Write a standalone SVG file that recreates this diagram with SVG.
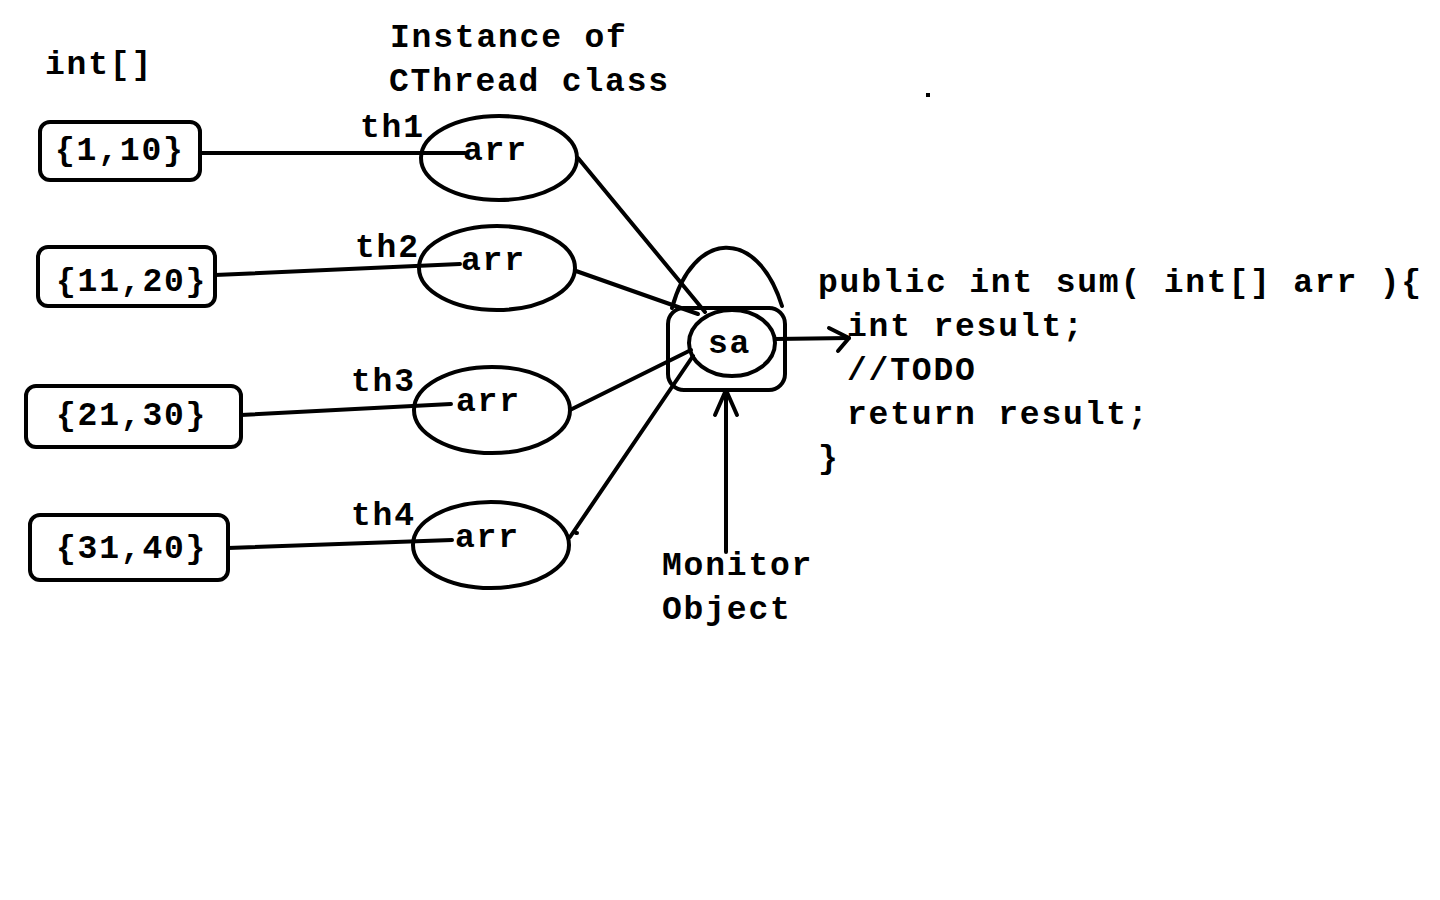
<svg xmlns="http://www.w3.org/2000/svg" width="1440" height="900" viewBox="0 0 1440 900">
<style>
.t{font-family:"Liberation Mono","DejaVu Sans Mono",monospace;font-weight:bold;font-size:33px;letter-spacing:1.8px;fill:#000}
.s{fill:none;stroke:#000;stroke-width:4;stroke-linecap:round;stroke-linejoin:round}
</style>
<rect width="1440" height="900" fill="#fff"/>
<text class="t" x="45" y="74">int[]</text>
<text class="t" x="390" y="47">Instance of</text>
<text class="t" x="389" y="91">CThread class</text>
<rect x="926" y="93" width="4" height="4" fill="#000"/>
<g id="connectors">
<line class="s" x1="200" y1="153" x2="465" y2="153"/>
<line class="s" x1="215" y1="275" x2="460" y2="264"/>
<line class="s" x1="241" y1="415" x2="451" y2="404"/>
<line class="s" x1="228" y1="548" x2="452" y2="540"/>
<line class="s" x1="578" y1="158" x2="705" y2="312"/>
<line class="s" x1="576" y1="271" x2="698" y2="314"/>
<line class="s" x1="570" y1="410" x2="691" y2="350"/>
<line class="s" x1="570" y1="537" x2="693" y2="356"/>
<line class="s" x1="576" y1="533" x2="577" y2="533"/>
<line class="s" x1="775" y1="339" x2="849" y2="338"/>
<polyline class="s" points="829,328 849,338 838,351"/>
<line class="s" x1="726" y1="552" x2="726" y2="390"/>
<polyline class="s" points="715,415 726,390 737,415"/>
</g>
<g id="box1"><rect class="s" x="40" y="122" width="160" height="58" rx="10"/><text class="t" x="55" y="160">{1,10}</text></g>
<g id="box2"><rect class="s" x="38" y="247" width="177" height="59" rx="10"/><text class="t" x="56" y="291">{11,20}</text></g>
<g id="box3"><rect class="s" x="26" y="386" width="215" height="61" rx="10"/><text class="t" x="56" y="425">{21,30}</text></g>
<g id="box4"><rect class="s" x="30" y="515" width="198" height="65" rx="10"/><text class="t" x="56" y="558">{31,40}</text></g>
<g id="th1"><ellipse class="s" cx="499" cy="158" rx="78" ry="42"/><text class="t" x="463" y="160">arr</text><text class="t" x="360" y="137">th1</text></g>
<g id="th2"><ellipse class="s" cx="497" cy="268" rx="78" ry="42"/><text class="t" x="461" y="270">arr</text><text class="t" x="355" y="257">th2</text></g>
<g id="th3"><ellipse class="s" cx="492" cy="410" rx="78" ry="43"/><text class="t" x="456" y="411">arr</text><text class="t" x="351" y="391">th3</text></g>
<g id="th4"><ellipse class="s" cx="491" cy="545" rx="78" ry="43"/><text class="t" x="455" y="547">arr</text><text class="t" x="351" y="525">th4</text></g>
<g id="lock">
<path class="s" d="M672,308 C693,230 757,226 782,306"/>
<rect class="s" x="668" y="308" width="117" height="82" rx="16"/>
<ellipse class="s" cx="732" cy="343" rx="43" ry="33"/>
<text class="t" x="708" y="353">sa</text>
</g>
<g id="monitor"><text class="t" x="662" y="575">Monitor</text><text class="t" x="662" y="619">Object</text></g>
<g id="code">
<text class="t" x="818" y="292">public int sum( int[] arr ){</text>
<text class="t" x="847" y="336">int result;</text>
<text class="t" x="847" y="380">//TODO</text>
<text class="t" x="847" y="424">return result;</text>
<text class="t" x="818" y="468">}</text>
</g>
</svg>
